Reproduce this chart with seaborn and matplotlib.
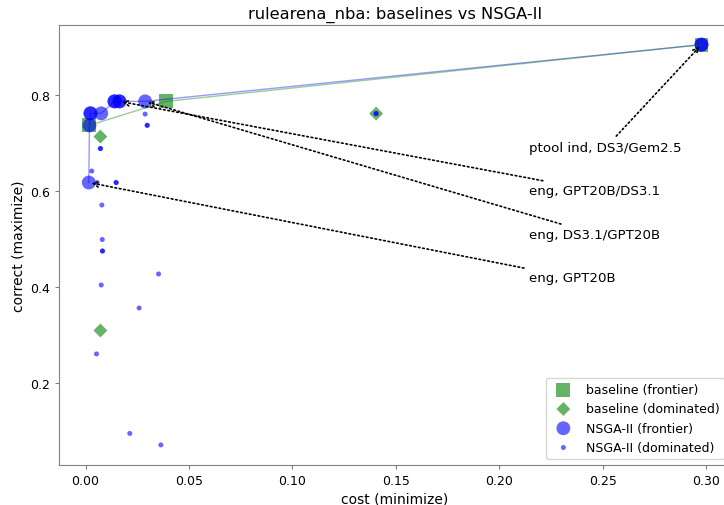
import seaborn as sns
import matplotlib.pyplot as plt
import pandas as pd
import numpy as np

# baseline points
base_front_cost = [0.0019, 0.039, 0.2976]
base_front_corr = [0.7375, 0.7875, 0.906]
base_dom_cost = [0.0072, 0.1404, 0.0072]
base_dom_corr = [0.714, 0.762, 0.309]

# NSGA-II points (repeated entries = overlapping runs)
nsga_front_cost = [0.0016, 0.0019, 0.0024, 0.0024, 0.0076, 0.014, 0.014,
                   0.0164, 0.0164, 0.0288, 0.2976, 0.2976]
nsga_front_corr = [0.618, 0.7375, 0.7625, 0.7625, 0.7625, 0.7875, 0.7875,
                   0.7875, 0.7875, 0.7875, 0.906, 0.906]
nsga_dom_cost = [0.0288, 0.0298, 0.0298, 0.0072, 0.0072, 0.003, 0.0056,
                 0.0148, 0.0148, 0.0079, 0.0081, 0.0082, 0.0082, 0.0353,
                 0.0076, 0.0259, 0.0053, 0.0214, 0.0364, 0.1404, 0.1404]
nsga_dom_corr = [0.761, 0.7375, 0.7375, 0.689, 0.689, 0.642, 0.618,
                 0.618, 0.618, 0.571, 0.499, 0.475, 0.475, 0.427,
                 0.404, 0.356, 0.26, 0.094, 0.070, 0.762, 0.762]

labels = ["ptool ind, DS3/Gem2.5", "eng, GPT20B/DS3.1",
          "eng, DS3.1/GPT20B", "eng, GPT20B"]
label_xy = [(0.2976, 0.906), (0.0164, 0.7875), (0.0288, 0.7875), (0.0016, 0.618)]
label_text_y = [0.684, 0.594, 0.503, 0.412]
label_text_x = 0.2145

bf = pd.DataFrame({"cost": base_front_cost, "correct": base_front_corr})
bd = pd.DataFrame({"cost": base_dom_cost, "correct": base_dom_corr})
nf = pd.DataFrame({"cost": nsga_front_cost, "correct": nsga_front_corr})
nd = pd.DataFrame({"cost": nsga_dom_cost, "correct": nsga_dom_corr})

fig = plt.figure(figsize=(7.24, 5.06), dpi=100)
ax = fig.add_axes([0.0815, 0.079, 0.928, 0.8696])

sns.lineplot(data=nf.drop_duplicates(), x="cost", y="correct", ax=ax, color="blue",
             alpha=0.4, lw=1, estimator=None, sort=True)
sns.lineplot(data=bf, x="cost", y="correct", ax=ax, color="green",
             alpha=0.4, lw=1, estimator=None, sort=True)

sns.scatterplot(data=bf, x="cost", y="correct", ax=ax, color="green", marker="s",
                s=100, alpha=0.6, edgecolor="none", label="baseline (frontier)")
sns.scatterplot(data=bd, x="cost", y="correct", ax=ax, color="green", marker="D",
                s=50, alpha=0.6, edgecolor="none", label="baseline (dominated)")
sns.scatterplot(data=nf, x="cost", y="correct", ax=ax, color="blue", marker="o",
                s=100, alpha=0.6, edgecolor="none", label="NSGA-II (frontier)")
sns.scatterplot(data=nd, x="cost", y="correct", ax=ax, color="blue", marker="o",
                s=13, alpha=0.6, edgecolor="none", label="NSGA-II (dominated)")

for lab, xy, ty in zip(labels, label_xy, label_text_y):
    ax.annotate(lab, xy=xy, xytext=(label_text_x, ty), fontsize=9.6,
                arrowprops=dict(arrowstyle="->", color="black", ls=":", lw=1.2))

ax.set_xlim(-0.0128, 0.3118)
ax.set_ylim(0.028, 0.947)
ax.set_xticks([0.0, 0.05, 0.10, 0.15, 0.20, 0.25, 0.30])
ax.set_yticks([0.2, 0.4, 0.6, 0.8])
ax.set_xlabel("cost (minimize)", fontsize=10, labelpad=3.5)
ax.set_ylabel("correct (maximize)", fontsize=10, labelpad=3.5)
ax.set_title("rulearena_nba: baselines vs NSGA-II", fontsize=11.7, pad=5.5)
for sp in ax.spines.values():
    sp.set_color("0.5")
ax.tick_params(colors="0.5", labelcolor="black", labelsize=9, length=3.2, pad=3.2)
ax.legend(loc="lower right", fontsize=9)

fig.savefig("out.png", dpi=100)
